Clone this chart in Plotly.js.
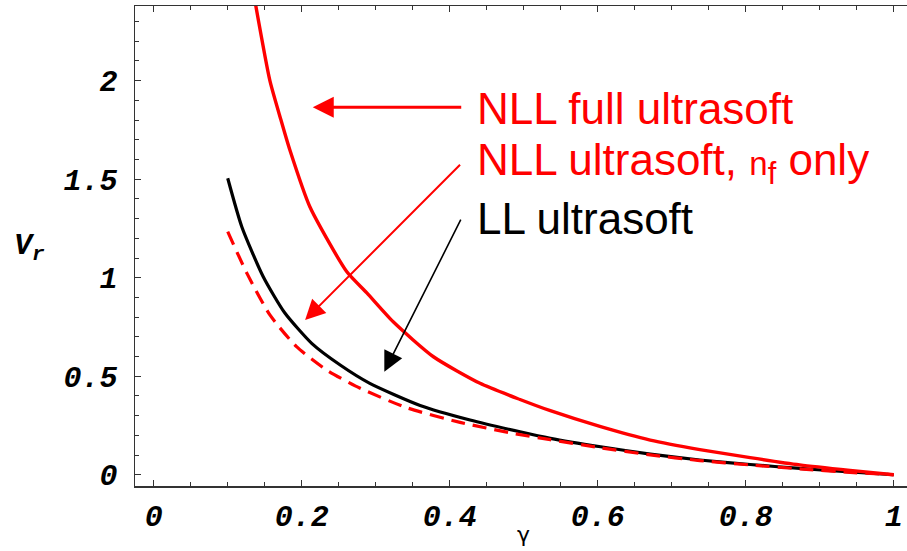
<!DOCTYPE html>
<html>
<head>
<meta charset="utf-8">
<script src="https://cdn.plot.ly/plotly-3.0.1.min.js"></script>
<style>html,body{margin:0;padding:0;background:#fff;}#chart{width:907px;height:551px;}</style>
</head>
<body>
<div id="chart"></div>
<script>
// NLL full ultrasoft (red solid)
const xFull = [0.137, 0.157, 0.172, 0.184, 0.211, 0.261, 0.288, 0.324, 0.378, 0.441, 0.495, 0.536, 0.604, 0.671, 0.738, 0.806, 0.873, 0.941, 1.0];
const yFull = [2.40, 2.00, 1.80, 1.648, 1.36, 1.03, 0.923, 0.775, 0.599, 0.464, 0.382, 0.325, 0.244, 0.176, 0.128, 0.087, 0.050, 0.022, 0.0];
// LL ultrasoft (black solid)
const xLL = [0.1, 0.119, 0.148, 0.177, 0.2135, 0.252, 0.292, 0.36, 0.4275, 0.495, 0.536, 0.604, 0.671, 0.738, 0.806, 0.873, 0.941, 1.0];
const yLL = [1.505, 1.259, 1.005, 0.822, 0.667, 0.557, 0.464, 0.352, 0.278, 0.218, 0.185, 0.142, 0.105, 0.075, 0.052, 0.032, 0.014, 0.0];
// NLL ultrasoft, nf only (red dashed)
const xNf = [0.1, 0.126, 0.157, 0.193, 0.234, 0.279, 0.342, 0.414, 0.486, 0.536, 0.604, 0.671, 0.738, 0.806, 0.873, 0.941, 1.0];
const yNf = [1.234, 1.022, 0.811, 0.650, 0.531, 0.439, 0.340, 0.266, 0.210, 0.178, 0.137, 0.101, 0.072, 0.050, 0.030, 0.012, 0.0];

const labels = ["NLL full ultrasoft", "NLL ultrasoft, <span style=\"font-size:33px\">n</span><sub>f</sub> only", "LL ultrasoft"];
const xTitle = "γ";
const yTitle = "V<sub>r</sub>";

const tickFont = {family: "Liberation Mono, Courier New, monospace", size: 30, weight: "bold", style: "italic", color: "#000"};

const traces = [
  {x: xLL, y: yLL, mode: "lines", line: {color: "#000", width: 3.2, shape: "spline", smoothing: 0.6}, hoverinfo: "skip"},
  {x: xNf, y: yNf, mode: "lines", line: {color: "#ff0000", width: 3.2, dash: "14px,8px", shape: "spline", smoothing: 0.6}, hoverinfo: "skip"},
  {x: xFull, y: yFull, mode: "lines", line: {color: "#ff0000", width: 3.4, shape: "spline", smoothing: 0.6}, hoverinfo: "skip"}
];

const textFont = (c) => ({family: "Liberation Sans, Arial, sans-serif", size: 44, color: c});

const layout = {
  width: 907, height: 551,
  margin: {l: 135, r: 0, t: 6, b: 65},
  paper_bgcolor: "#fff", plot_bgcolor: "#fff",
  showlegend: false,
  xaxis: {
    range: [-0.0253, 1.018], showgrid: false, zeroline: false,
    showline: true, linecolor: "#333", linewidth: 1.5, mirror: "ticks",
    ticks: "inside", ticklen: 6, tickwidth: 1, tickcolor: "#333",
    tick0: 0, dtick: 0.2, tickfont: tickFont, ticklabelstandoff: 2,
    minor: {dtick: 0.05, ticks: "inside", ticklen: 4, tickcolor: "#333", showgrid: false}
  },
  yaxis: {
    range: [-0.057, 2.379], showgrid: false, zeroline: false,
    showline: true, linecolor: "#333", linewidth: 1.5,
    ticks: "inside", ticklen: 6, tickwidth: 1, tickcolor: "#333",
    tick0: 0, dtick: 0.5, tickfont: tickFont, ticklabelstandoff: 10,
    minor: {dtick: 0.1, ticks: "inside", ticklen: 4, tickcolor: "#333", showgrid: false}
  },
  annotations: [
    {x: 0.434, y: 1.861, xref: "x", yref: "y", text: labels[0], showarrow: false, xanchor: "left", yanchor: "middle", font: textFont("#ff0000")},
    {x: 0.434, y: 1.582, xref: "x", yref: "y", text: labels[1], showarrow: false, xanchor: "left", yanchor: "middle", font: textFont("#ff0000")},
    {x: 0.434, y: 1.302, xref: "x", yref: "y", text: labels[2], showarrow: false, xanchor: "left", yanchor: "middle", font: textFont("#000")},
    {x: 0.2149, y: 1.865, ax: 0.4176, ay: 1.865, xref: "x", yref: "y", axref: "x", ayref: "y", text: "", showarrow: true, arrowhead: 2, arrowsize: 1.4, arrowwidth: 3, arrowcolor: "#ff0000"},
    {x: 0.2046, y: 0.785, ax: 0.416, ay: 1.581, xref: "x", yref: "y", axref: "x", ayref: "y", text: "", showarrow: true, arrowhead: 2, arrowsize: 2, arrowwidth: 2, arrowcolor: "#ff0000"},
    {x: 0.3116, y: 0.523, ax: 0.416, ay: 1.302, xref: "x", yref: "y", axref: "x", ayref: "y", text: "", showarrow: true, arrowhead: 2, arrowsize: 2.5, arrowwidth: 1.6, arrowcolor: "#000"},
    {x: -0.137, y: 0.496, xref: "paper", yref: "paper", text: yTitle, showarrow: false, xanchor: "center", yanchor: "middle", font: {family: "Liberation Mono, Courier New, monospace", size: 30, weight: "bold", style: "italic", color: "#000"}},
    {x: 0.5, y: -0.07, xref: "x", yref: "paper", text: xTitle, showarrow: false, xanchor: "center", yanchor: "top", font: {family: "DejaVu Sans, sans-serif", size: 22, color: "#000"}}
  ]
};

Plotly.newPlot("chart", traces, layout, {staticPlot: true, displayModeBar: false});
</script>
</body>
</html>
